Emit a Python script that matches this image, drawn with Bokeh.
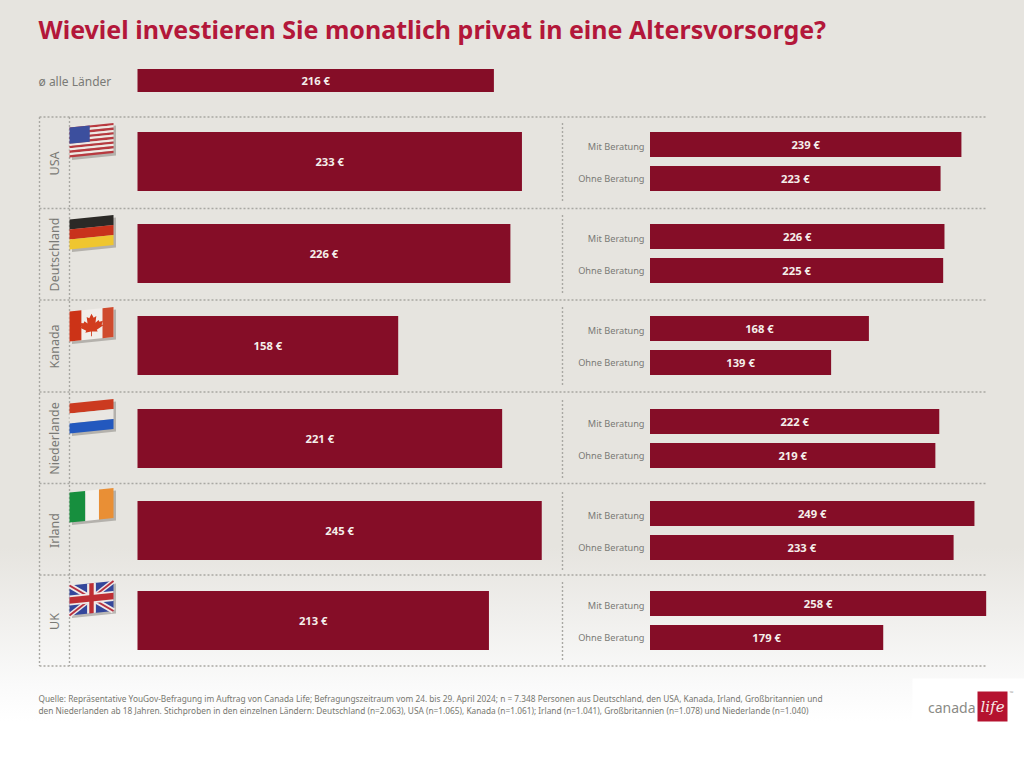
from bokeh.plotting import figure
from bokeh.models import Range1d, ColumnDataSource
from bokeh.core.properties import value
from bokeh.embed import file_html
from bokeh.resources import INLINE

# ---- data ----
countries = ["USA", "Deutschland", "Kanada", "Niederlande", "Irland", "UK"]
total = [233, 226, 158, 221, 245, 213]
mit_beratung = [239, 226, 168, 222, 249, 258]
ohne_beratung = [223, 225, 139, 219, 233, 179]
average_label = "ø alle Länder"
average = [216]
title = "Wieviel investieren Sie monatlich privat in eine Altersvorsorge?"
source_lines = [
    "Quelle: Repräsentative YouGov-Befragung im Auftrag von Canada Life; Befragungszeitraum vom 24. bis 29. April 2024; n = 7.348 Personen aus Deutschland, den USA, Kanada, Irland, Großbritannien und",
    "den Niederlanden ab 18 Jahren. Stichproben in den einzelnen Ländern: Deutschland (n=2.063), USA (n=1.065), Kanada (n=1.061); Irland (n=1.041), Großbritannien (n=1.078) und Niederlande (n=1.040)",
]

# ---- layout (reference pixel coordinates) ----
W, H = 1024, 760
FONT = value("Noto Sans")
BAR = "#850D27"
GREY = "#7A7A76"
L0, LK = 137, 1.65
R0, RK = 649.5, 1.303
row_tops = [131.5, 223.5, 315.5, 408.5, 500.5, 590.5]
row_lines = [116.5, 208, 299.5, 391.5, 483, 574.5, 665.5]
flag_tops = [127, 219, 311, 403, 492, 585]
label_mid = [163, 254, 346, 438, 530, 621]

p = figure(width=W, height=H, x_range=Range1d(0, W), y_range=Range1d(H, 0),
           x_axis_type=None, y_axis_type=None, toolbar_location=None,
           output_backend="svg", min_border=0, outline_line_color=None,
           background_fill_color=None, border_fill_color=None)
p.grid.visible = False
p.extra_x_ranges["left"] = Range1d((0 - L0) / LK, (W - L0) / LK)
p.extra_x_ranges["right"] = Range1d((0 - R0) / RK, (W - R0) / RK)

# dashed frame
DASH = dict(line_color="#A9A8A3", line_width=1.4, line_dash="2 2")
p.multi_line([[39, 986]] * len(row_lines), [[y, y] for y in row_lines], **DASH)
p.multi_line([[39, 39], [69, 69]], [[116.5, 665.5], [116.5, 665.5]], **DASH)
p.multi_line([[562, 562]] * 6, [[t - 9, t + 69] for t in row_tops], **DASH)


def bars(vals, tops, h, rng):
    src = ColumnDataSource(dict(v=vals, y=[t + h / 2 for t in tops],
                                mid=[v / 2 for v in vals],
                                lab=[f"{v} €" for v in vals]))
    p.hbar(y="y", left=0, right="v", height=h, source=src, x_range_name=rng,
           fill_color=BAR, line_color=None)
    p.text(x="mid", y="y", text="lab", source=src, x_range_name=rng,
           text_color="#F4EEEA", text_font=FONT, text_font_style="bold",
           text_font_size="11.2px", text_align="center", text_baseline="middle")


bars(average, [68.5], 23, "left")
bars(total, row_tops, 59, "left")
bars(mit_beratung, row_tops, 25, "right")
bars(ohne_beratung, [t + 34 for t in row_tops], 25, "right")

# text
p.text([38], [28], text=[title], text_color="#B3173A", text_font=FONT, text_font_style="bold",
       text_font_size="25px", text_baseline="middle")
p.text([38], [81], text=[average_label], text_color=GREY, text_font=FONT,
       text_font_size="12px", text_baseline="middle")
p.text([54] * 6, label_mid, text=countries, text_color=GREY, text_font=FONT,
       text_font_size="12.5px", text_align="center", text_baseline="middle", angle=1.5708)
p.text([644] * 6, [t + 14.5 for t in row_tops], text=["Mit Beratung"] * 6, text_color=GREY,
       text_font=FONT, text_font_size="9.2px", text_align="right", text_baseline="middle")
p.text([644] * 6, [t + 46.5 for t in row_tops], text=["Ohne Beratung"] * 6, text_color=GREY,
       text_font=FONT, text_font_size="9.2px", text_align="right", text_baseline="middle")
p.text([38, 38], [698, 710], text=source_lines, text_color="#77776F", text_font=FONT,
       text_font_size="8.3px", text_baseline="middle")


# flags: shapes in unit coordinates mapped onto a slanted sheet
def flag(top, shapes):
    def mx(u, v):
        return 69 + 44 * u

    def my(u, v):
        return top + 30 * v - 4.5 * u

    def poly(pts):
        return [mx(*q) for q in pts], [my(*q) for q in pts]
    sx, sy = poly([(0, 0), (1, 0), (1, 1), (0, 1)])
    p.patch([x + 2.5 for x in sx], [y + 2.5 for y in sy], fill_color="#55524E",
            fill_alpha=0.35, line_color=None)
    for pts, col in shapes:
        xs, ys = poly(pts)
        p.patch(xs, ys, fill_color=col, line_color=None)


def box(u0, v0, u1, v1):
    return [(u0, v0), (u1, v0), (u1, v1), (u0, v1)]


def hstripes(cols):
    n = len(cols)
    return [(box(0, i / n, 1, (i + 1) / n), c) for i, c in enumerate(cols)]


def band(a, b, w):
    dx, dy = (b[0] - a[0]), (b[1] - a[1])
    ln = (dx * dx * 1.8 + dy * dy) ** .5
    nx, ny = -dy / ln * w / 1.8, dx / ln * w
    return [(a[0] + nx, a[1] + ny), (b[0] + nx, b[1] + ny), (b[0] - nx, b[1] - ny), (a[0] - nx, a[1] - ny)]


us = hstripes(["#B8393F" if i % 2 == 0 else "#F0E9E4" for i in range(13)])
us.append((box(0, 0, .46, .54), "#3C4F9E"))
leaf = [(.5, .15), (.45, .29), (.39, .24), (.41, .46), (.34, .38), (.32, .44), (.24, .42), (.27, .54),
        (.23, .57), (.38, .7), (.36, .76), (.49, .74), (.49, .9), (.51, .9), (.51, .74), (.64, .76),
        (.62, .7), (.77, .57), (.73, .54), (.76, .42), (.68, .44), (.66, .38), (.59, .46), (.61, .24),
        (.55, .29)]
ca = [(box(0, 0, 1, 1), "#F1EEEA"), (box(0, 0, .27, 1), "#CC3317"), (box(.75, 0, 1, 1), "#CF4B2E"),
      (leaf, "#D23D1E")]
uk = [(box(0, 0, 1, 1), "#34479B"),
      (band((0, 0), (1, 1), .11), "#EFEAE8"), (band((0, 1), (1, 0), .11), "#EFEAE8"),
      (band((0, 0), (1, 1), .04), "#B83240"), (band((0, 1), (1, 0), .04), "#B83240"),
      (box(.4, 0, .6, 1), "#EFEAE8"), (box(0, .33, 1, .67), "#EFEAE8"),
      (box(.45, 0, .55, 1), "#BE2E33"), (box(0, .39, 1, .61), "#BE2E33")]
flags = [us,
         hstripes(["#2B2926", "#C8321C", "#EFC62F"]),
         ca,
         hstripes(["#CB3A20", "#E9E6E2", "#2358BE"]),
         [(box(0, 0, .36, 1), "#178F3E"), (box(.36, 0, .67, 1), "#F4F2EE"), (box(.67, 0, 1, 1), "#E98F35")],
         uk]
for t, s in zip(flag_tops, flags):
    flag(t, s)

# logo
p.quad(left=[912], right=[1024], top=[678], bottom=[724], fill_color="#FFFFFF", line_color=None)
p.quad(left=[977], right=[1007], top=[691], bottom=[721], fill_color="#B5122F", line_color=None)
p.text([975], [707], text=["canada"], text_color="#8A8A85", text_font=FONT, text_font_size="14px",
       text_align="right", text_baseline="middle")
p.text([992], [706], text=["life"], text_color="#F6E7E6", text_font=value("DejaVu Serif"),
       text_font_style="italic", text_font_size="15px", text_align="center", text_baseline="middle")
p.text([1009], [692], text=["™"], text_color="#A0A09A", text_font=FONT, text_font_size="5px",
       text_baseline="middle")

html = file_html(p, INLINE)
page_bg = ("<style>html{height:100%;background:linear-gradient(#E6E4DF 0,#E6E4DF 72%,"
           "#FAFAFA 90%,#FFFFFF 95%) no-repeat;}body{background:transparent;overflow:hidden;}</style>")
html = html.replace("</head>", page_bg + "</head>", 1)
open("out.html", "w").write(html)
